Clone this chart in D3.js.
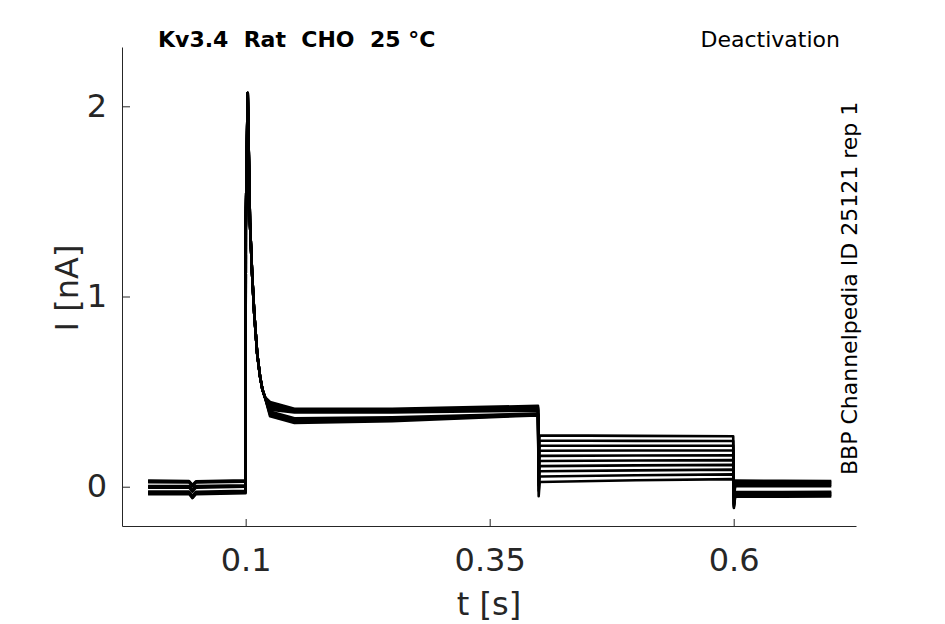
<!DOCTYPE html>
<html>
<head>
<meta charset="utf-8">
<script src="https://cdn.jsdelivr.net/npm/d3@7/dist/d3.min.js"></script>
<style>
    body { margin: 0; background: #fff; }
    svg { display: block; }
</style>
</head>
<body>
<div id="chart"></div>
<script>
// ---- data (time in s, current in nA) ----

var xTickValues = [0.1, 0.35, 0.6];
var yTickValues = [0, 1, 2];

// holding phase, one row per sweep
var holdTimes = [0, 0.042, 0.0455, 0.049, 0.0999];
var holdCurrent = [
    [0.032, 0.030, 0.010, 0.028, 0.034],
    [0.028, 0.027, 0.006, 0.025, 0.030],
    [0.024, 0.023, 0.002, 0.022, 0.026],
    [0.004, 0.004, -0.016, 0.003, 0.008],
    [0.000, 0.000, -0.020, -0.001, 0.004],
    [-0.005, -0.004, -0.026, -0.005, 0.000],
    [-0.026, -0.026, -0.048, -0.027, -0.022],
    [-0.030, -0.030, -0.052, -0.031, -0.026],
    [-0.035, -0.034, -0.056, -0.035, -0.030],
    [-0.040, -0.038, -0.060, -0.039, -0.034]
];

// activation transient, shared by all sweeps
var peakTimes = [0.1001, 0.1021, 0.1044, 0.1066, 0.1088, 0.1118, 0.1147, 0.1172, 0.1198];
var peakCurrent = [1.36, 2.07, 1.39, 1.12, 0.91, 0.70, 0.58, 0.51, 0.47];

// sustained part of the activation step
var plateauTimes = [0.125, 0.15, 0.25, 0.3995];
var plateauCurrent = [
    [0.445, 0.410, 0.410, 0.425],
    [0.435, 0.405, 0.405, 0.418],
    [0.425, 0.400, 0.400, 0.412],
    [0.415, 0.395, 0.395, 0.406],
    [0.405, 0.390, 0.390, 0.400],
    [0.395, 0.360, 0.365, 0.385],
    [0.390, 0.355, 0.360, 0.382],
    [0.385, 0.348, 0.355, 0.379],
    [0.378, 0.342, 0.350, 0.377],
    [0.370, 0.335, 0.345, 0.375]
];

// deactivation step: tail spike, then level
var deactTimes = [0.4002, 0.4012, 0.5, 0.5995];
var deactCurrent = [
    [0.195, 0.270, 0.267, 0.265],
    [0.168, 0.243, 0.241, 0.240],
    [0.141, 0.216, 0.215, 0.215],
    [0.114, 0.189, 0.190, 0.190],
    [0.087, 0.162, 0.164, 0.165],
    [0.060, 0.135, 0.138, 0.140],
    [0.033, 0.108, 0.112, 0.115],
    [0.006, 0.081, 0.086, 0.090],
    [-0.021, 0.054, 0.060, 0.065],
    [-0.050, 0.025, 0.034, 0.040]
];

// return to holding
var tailTimes = [0.6002, 0.6015, 0.65, 0.7];
var tailCurrent = [
    [-0.028, 0.032, 0.031, 0.030],
    [-0.035, 0.025, 0.024, 0.024],
    [-0.042, 0.018, 0.018, 0.017],
    [-0.050, 0.010, 0.010, 0.010],
    [-0.058, 0.002, 0.002, 0.002],
    [-0.088, -0.028, -0.028, -0.027],
    [-0.094, -0.034, -0.034, -0.033],
    [-0.100, -0.040, -0.040, -0.039],
    [-0.106, -0.046, -0.046, -0.045],
    [-0.112, -0.052, -0.052, -0.051]
];

(function () {
    'use strict';

    var width = 945;
    var height = 624;
    var axisColor = '#262626';
    var font = '"DejaVu Sans", "Liberation Sans", sans-serif';

    var x = d3.scaleLinear().domain([-0.0267, 0.7253]).range([122, 856]);
    var y = d3.scaleLinear().domain([-0.2066, 2.3118]).range([526, 47]);

    var svg = d3.select('#chart').append('svg')
        .attr('width', width)
        .attr('height', height);

    svg.append('rect')
        .attr('width', width)
        .attr('height', height)
        .style('fill', '#fff');

    drawTraces();
    drawAxes();
    drawLabels();

    function sweepPoints(i) {
        var pts = [];
        holdTimes.forEach(function (t, k) { pts.push([t, holdCurrent[i][k]]); });
        peakTimes.forEach(function (t, k) { pts.push([t, peakCurrent[k]]); });
        plateauTimes.forEach(function (t, k) { pts.push([t, plateauCurrent[i][k]]); });
        deactTimes.forEach(function (t, k) { pts.push([t, deactCurrent[i][k]]); });
        tailTimes.forEach(function (t, k) { pts.push([t, tailCurrent[i][k]]); });
        return pts;
    }

    function drawTraces() {
        var line = d3.line()
            .x(function (d) { return x(d[0]); })
            .y(function (d) { return y(d[1]); });

        var sweeps = holdCurrent.map(function (row, i) { return sweepPoints(i); });

        svg.append('g').selectAll('path')
            .data(sweeps)
            .enter().append('path')
            .attr('d', line)
            .style('fill', 'none')
            .style('stroke', '#000')
            .style('stroke-width', 2.6)
            .style('stroke-linejoin', 'round');
    }

    function drawAxes() {
        var xAxis = d3.axisBottom(x)
            .tickValues(xTickValues)
            .tickFormat(d3.format('~g'))
            .tickSizeInner(-7)
            .tickSizeOuter(0)
            .tickPadding(22);

        var yAxis = d3.axisLeft(y)
            .tickValues(yTickValues)
            .tickFormat(d3.format('d'))
            .tickSizeInner(-8)
            .tickSizeOuter(0)
            .tickPadding(15);

        var gx = svg.append('g')
            .attr('transform', 'translate(0,526)')
            .call(xAxis);

        var gy = svg.append('g')
            .attr('transform', 'translate(122,0)')
            .call(yAxis);

        [gx, gy].forEach(function (g) {
            g.selectAll('path, line').style('stroke', axisColor).style('stroke-width', 1);
            g.selectAll('text')
                .style('fill', axisColor)
                .style('font-family', font)
                .style('font-size', '32px');
        });
    }

    function drawLabels() {
        svg.append('text')
            .attr('x', 489)
            .attr('y', 615)
            .attr('text-anchor', 'middle')
            .style('font-family', font)
            .style('font-size', '32px')
            .style('fill', axisColor)
            .text('t [s]');

        svg.append('text')
            .attr('transform', 'translate(78,288) rotate(-90)')
            .attr('text-anchor', 'middle')
            .style('font-family', font)
            .style('font-size', '32px')
            .style('fill', axisColor)
            .text('I [nA]');

        svg.append('text')
            .attr('x', 158)
            .attr('y', 47)
            .style('font-family', font)
            .style('font-size', '22px')
            .style('font-weight', 'bold')
            .style('fill', '#000')
            .style('white-space', 'pre')
            .attr('xml:space', 'preserve')
            .text('Kv3.4  Rat  CHO  25 \u00B0C');

        svg.append('text')
            .attr('x', 840)
            .attr('y', 47)
            .attr('text-anchor', 'end')
            .style('font-family', font)
            .style('font-size', '22px')
            .style('fill', '#000')
            .text('Deactivation');

        svg.append('text')
            .attr('transform', 'translate(857,475) rotate(-90)')
            .style('font-family', font)
            .style('font-size', '22px')
            .style('fill', '#000')
            .text('BBP Channelpedia ID 25121 rep 1');
    }
})();
</script>
</body>
</html>
